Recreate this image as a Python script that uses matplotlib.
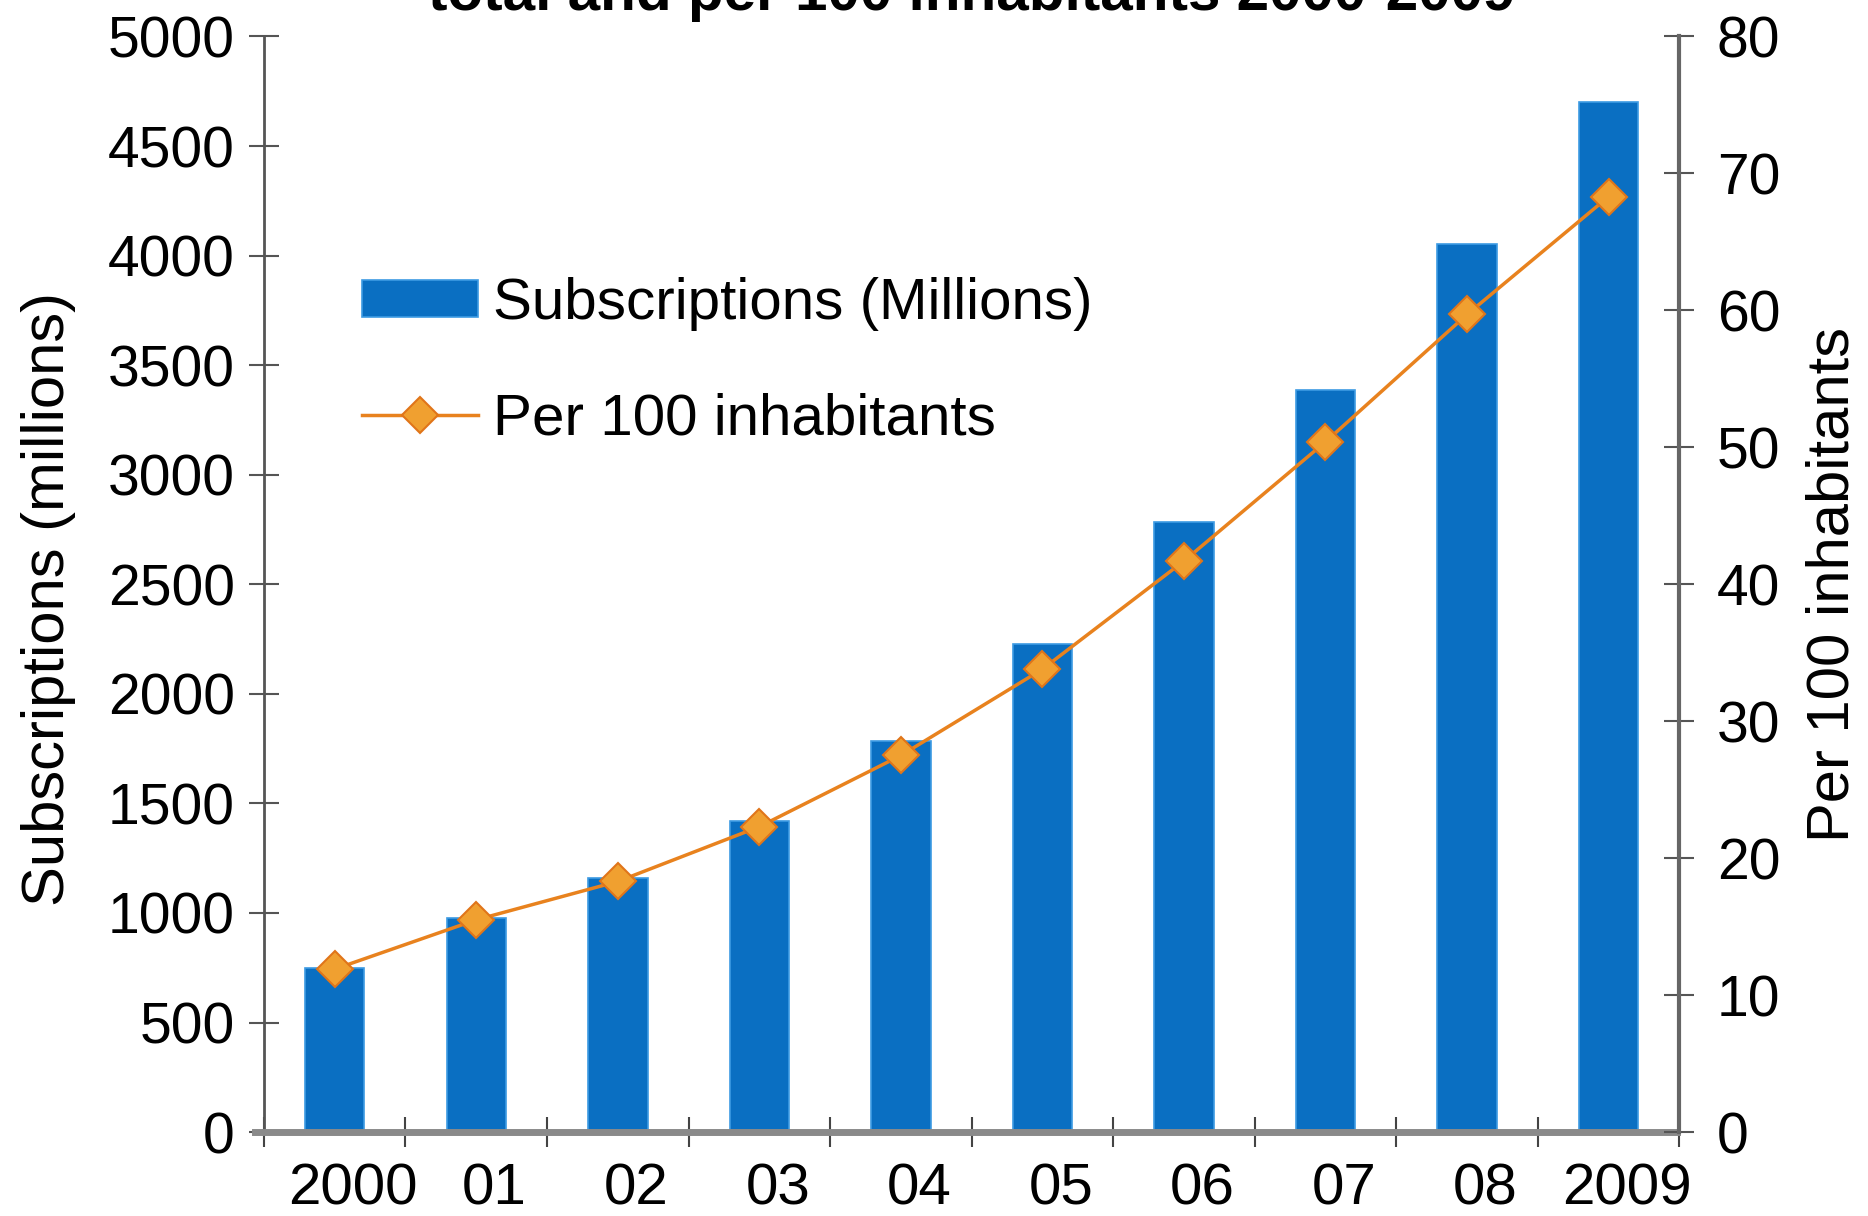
import numpy as np
import matplotlib.pyplot as plt
from matplotlib.ticker import FixedLocator

plt.rcParams['font.family'] = ['Liberation Sans', 'DejaVu Sans']

# datos
years = ["2000", "01", "02", "03", "04", "05", "06", "07", "08", "2009"]
subscriptions = [750, 978, 1158, 1418, 1783, 2228, 2783, 3386, 4054, 4701]
per_100 = [11.9, 15.5, 18.3, 22.3, 27.5, 33.8, 41.7, 50.4, 59.7, 68.3]

bar_color = "#0A6FC2"
line_color = "#E8821E"

fig = plt.figure(figsize=(18.68, 12.16), dpi=100)
ax = fig.add_axes([0.1413, 0.069, 0.7577, 0.901])
x = np.arange(len(years))

ax.bar(x, subscriptions, width=0.42, color=bar_color, edgecolor="#3D9BE3",
       linewidth=1.2, label="Subscriptions (Millions)", zorder=2)
ax.set_xlim(-0.5, len(years) - 0.5)
ax.set_ylim(0, 5000)
ax.set_yticks(np.arange(0, 5001, 500))
ax.set_ylabel("Subscriptions (millions)", fontsize=43)
ax.yaxis.set_label_coords(-0.133, 0.487)

ax2 = ax.twinx()
ax2.plot(x, per_100, color=line_color, linewidth=2.5, marker="D", markersize=18,
         markerfacecolor="#F0A030", markeredgecolor="#E0751A", markeredgewidth=1.5,
         label="Per 100 inhabitants", zorder=3)
ax2.set_ylim(0, 80)
ax2.set_yticks(np.arange(0, 81, 10))
ax2.set_ylabel("Per 100 inhabitants", fontsize=43, labelpad=18)

# ejes
ax.spines["top"].set_visible(False)
ax2.spines["top"].set_visible(False)
ax.spines["right"].set_visible(False)
ax2.spines["left"].set_visible(False)
ax2.spines["bottom"].set_visible(False)
ax.spines["left"].set_color("#555555")
ax.spines["left"].set_linewidth(2)
ax2.spines["right"].set_color("#666666")
ax2.spines["right"].set_linewidth(3)
ax.spines["bottom"].set_color("#8a8a8a")
ax.spines["bottom"].set_linewidth(5)
ax.spines["bottom"].set_bounds(-0.56, 9.48)

ax.tick_params(axis="y", direction="inout", length=22, width=1.5, color="#555555",
               labelsize=41, pad=10)
ax2.tick_params(axis="y", direction="inout", length=22, width=1.5, color="#555555",
                labelsize=41, pad=16)

ax.set_xticks(x + 0.13)
ax.set_xticklabels(years)
ax.xaxis.set_minor_locator(FixedLocator(np.arange(-0.5, len(years), 1.0)))
ax.tick_params(axis="x", which="major", length=0, labelsize=42, pad=22)
ax.tick_params(axis="x", which="minor", direction="inout", length=22, width=1.5,
               color="#444444")

# leyenda
h1, l1 = ax.get_legend_handles_labels()
h2, l2 = ax2.get_legend_handles_labels()
ax.legend(h1 + h2, l1 + l2, loc="upper left", bbox_to_anchor=(0.032, 0.828),
          frameon=False, fontsize=42, handlelength=2.0, handleheight=0.6,
          labelspacing=1.05, handletextpad=0.25)

# titulo (cortado arriba en la imagen original)
fig.text(0.52, 1 - 10 / 1216, "total and per 100 inhabitants 2000-2009",
         ha="center", va="baseline", fontsize=42, fontweight="bold")

fig.savefig("out.png", dpi=100)
